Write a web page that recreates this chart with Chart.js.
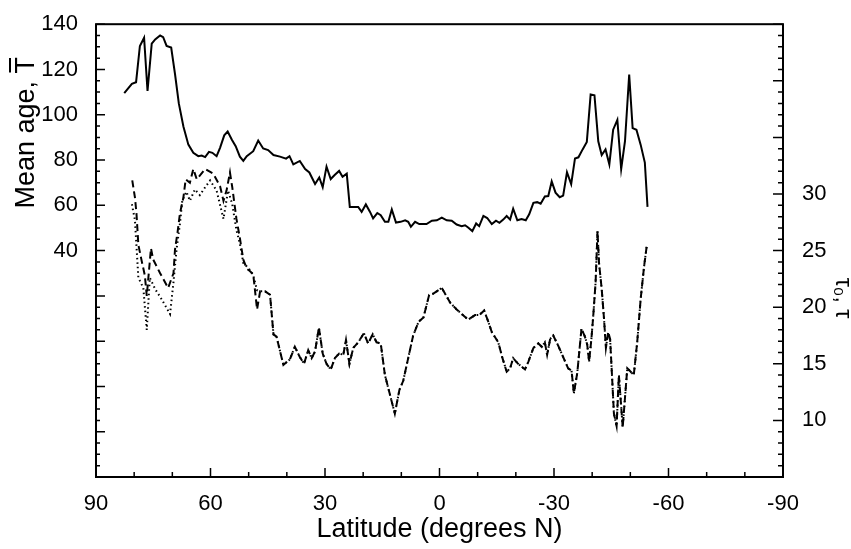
<!DOCTYPE html>
<html>
<head>
<meta charset="utf-8">
<script src="https://cdn.jsdelivr.net/npm/chart.js@4/dist/chart.umd.min.js"></script>
<style>
  html, body { margin: 0; padding: 0; background: #fff; }
  #wrap { width: 851px; height: 549px; }
</style>
</head>
<body>
<div id="wrap"><canvas id="ageChart" width="851" height="549"></canvas></div>
<script>
// Mean age (left axis), solid line
const ageLat = [82.6, 80.6, 79.5, 78.5, 77.4, 76.5, 75.4, 74.5, 73.2, 72.4, 71.5, 70.3, 69.3, 68.3, 67.1, 65.8, 64.5, 63.2, 62.3, 61.4,
  60.4, 59.5, 58.4, 57.5, 56.4, 55.5, 54.4, 53.4, 52.3, 51.4, 50.5, 48.8, 47.5, 46.2, 44.9, 43.5, 41.8, 40.2, 39.3, 38.3,
  36.6, 35.2, 34.1, 32.6, 31.5, 30.6, 29.6, 28.5, 27.4, 26.3, 25.4, 24.3, 23.5, 21.3, 20.4, 19.3, 18.2, 17.4, 16.3, 15.4,
  14.3, 13.4, 12.5, 11.4, 10.2, 9.0, 8.2, 7.5, 6.4, 5.3, 4.2, 3.4, 2.0, 0.7, -0.6, -1.9, -3.2, -4.5, -5.8, -6.7,
  -7.5, -8.6, -9.6, -10.4, -11.5, -12.5, -13.7, -14.8, -15.7, -16.7, -17.6, -18.5, -19.3, -20.4, -21.5, -22.6, -23.5, -24.6, -25.6, -26.5,
  -27.6, -28.5, -29.4, -30.4, -31.5, -32.4, -33.4, -34.5, -35.5, -36.4, -37.5, -38.6, -39.6, -40.6, -41.6, -42.5, -43.5, -44.5, -45.5, -46.6,
  -47.6, -48.6, -49.7, -50.6, -51.6, -52.7, -53.8, -54.5];
const ageVal = [109.6, 113.7, 114.4, 130.4, 134.0, 110.5, 131.4, 133.3, 135.0, 134.3, 130.4, 129.7, 118.0, 105.0, 94.8, 86.8, 83.2, 81.7, 82.0, 81.3,
  83.6, 83.2, 81.7, 85.4, 90.9, 92.6, 89.0, 86.1, 81.5, 79.6, 81.7, 83.9, 88.6, 85.1, 84.4, 82.2, 81.5, 80.6, 81.7, 78.1,
  79.6, 76.0, 74.5, 69.4, 72.3, 68.0, 77.1, 71.6, 73.5, 75.2, 72.6, 74.0, 59.3, 59.3, 57.1, 60.4, 57.1, 54.2, 56.6, 55.6,
  52.7, 52.7, 58.2, 52.4, 52.7, 53.4, 52.7, 50.5, 52.7, 51.7, 51.7, 51.7, 53.2, 53.4, 54.6, 53.4, 53.2, 51.5, 50.8, 51.2,
  50.2, 48.6, 52.0, 50.8, 55.3, 54.4, 51.7, 53.2, 52.3, 53.7, 55.3, 53.7, 58.5, 53.4, 53.9, 53.4, 56.0, 61.1, 61.4, 60.7,
  63.9, 64.1, 70.6, 65.6, 63.6, 64.3, 74.6, 69.4, 80.7, 81.2, 84.7, 88.0, 109.0, 108.6, 88.3, 82.2, 84.7, 78.1, 93.4, 97.7,
  76.0, 88.3, 117.8, 94.1, 93.4, 86.8, 78.9, 59.3];

// tau0 (right axis, dashed) north of 47N
const tau0NorthLat = [80.5, 79.8, 79.4, 78.9, 78.1, 77.2, 76.7, 75.6, 75.0, 73.2, 71.1, 69.7, 69.3, 68.6, 68.0, 67.1, 66.5, 65.4, 64.5, 63.6,
  61.4, 59.3, 57.5, 56.6, 55.8, 54.9, 54.3, 53.2, 52.3, 51.4, 50.5, 49.7, 48.8, 47.8];
const tau0NorthVal = [31.2, 29.7, 28.3, 25.5, 24.2, 22.8, 21.0, 25.2, 24.2, 23.0, 21.7, 23.0, 25.1, 26.7, 28.3, 29.7, 31.3, 31.0, 32.2, 31.3,
  32.2, 31.8, 30.7, 29.4, 30.3, 31.9, 30.6, 27.8, 26.1, 24.2, 23.4, 23.2, 22.9, 19.8];

// tau (right axis, dotted) north of 47N
const tauNorthLat = [80.6, 79.8, 78.9, 77.6, 76.7, 75.9, 74.5, 72.8, 70.6, 69.7, 68.9, 68.0, 67.4, 66.3, 65.4, 64.1, 62.8, 61.4, 60.1, 58.4,
  56.6, 55.4, 54.3, 53.2, 52.3, 51.4, 50.5, 49.7, 48.8, 47.8];
const tauNorthVal = [29.1, 27.7, 22.6, 21.7, 18.0, 22.6, 21.6, 20.7, 19.4, 22.2, 25.1, 27.4, 29.4, 30.2, 29.4, 30.4, 29.9, 30.6, 31.2, 30.3,
  27.8, 30.3, 29.1, 26.8, 25.6, 23.9, 23.6, 23.3, 22.8, 21.5];

// south of 47N both tau curves lie on top of each other
const tauSouthLat = [47.0, 45.7, 44.4, 43.5, 42.7, 40.9, 39.2, 37.9, 36.6, 35.5, 34.4, 33.5, 32.6, 31.6, 30.6, 29.6, 28.5, 27.4, 26.3, 25.2,
  24.5, 23.6, 22.6, 21.3, 19.8, 18.7, 17.5, 16.5, 15.4, 14.3, 13.0, 11.7, 10.5, 9.5, 8.2, 6.9, 5.5, 4.2, 2.7, 1.6,
  -0.6, -2.8, -4.5, -5.8, -7.5, -9.3, -10.4, -11.7, -12.8, -13.7, -15.4, -16.5, -17.6, -18.5, -19.3, -20.6, -22.4, -23.3, -24.6, -25.9,
  -26.8, -27.6, -28.2, -29.0, -29.8, -31.1, -32.4, -33.7, -34.6, -35.2, -36.1, -37.2, -38.1, -38.7, -39.2, -39.8, -40.3, -40.9, -41.4, -41.8,
  -42.5, -43.1, -43.6, -44.2, -44.7, -45.1, -45.7, -46.4, -47.0, -47.5, -48.0, -48.6, -49.2, -50.1, -50.9, -51.8, -52.7, -53.6, -54.3];
const tauSouthVal = [21.4, 21.4, 21.1, 17.6, 17.4, 14.9, 15.4, 16.5, 15.6, 15.0, 16.2, 15.5, 16.1, 18.2, 15.9, 15.0, 14.5, 15.5, 15.9, 15.8,
  17.1, 15.0, 16.4, 16.9, 17.7, 16.8, 17.6, 16.9, 16.8, 14.0, 12.3, 10.6, 12.7, 13.5, 15.5, 17.5, 18.7, 19.1, 21.1, 21.2,
  21.7, 20.4, 19.8, 19.4, 18.9, 19.3, 19.3, 19.7, 18.7, 17.8, 16.9, 15.5, 14.3, 14.6, 15.5, 15.0, 14.5, 15.2, 16.4, 16.8,
  16.5, 16.9, 15.8, 17.2, 17.5, 16.6, 15.6, 14.6, 14.4, 12.4, 14.2, 18.1, 17.4, 16.7, 15.2, 17.2, 19.3, 22.2, 26.7, 23.9,
  21.6, 19.0, 16.4, 17.8, 17.2, 14.6, 10.6, 9.5, 14.0, 11.7, 9.4, 12.0, 14.6, 14.3, 14.0, 16.9, 20.7, 23.6, 25.4];

// axis ticks
const latTicks = [90, 60, 30, 0, -30, -60, -90];
const ageTickLabels = [40, 60, 80, 100, 120, 140];
const tauTickLabels = [10, 15, 20, 25, 30];

const pts = (xs, ys) => xs.map((x, i) => ({ x, y: ys[i] }));
const tau0Data = pts(tau0NorthLat, tau0NorthVal).concat(pts(tauSouthLat, tauSouthVal));
const tauData = pts(tauNorthLat, tauNorthVal).concat(pts(tauSouthLat, tauSouthVal));

const FONT = '"Liberation Sans", Arial, Helvetica, sans-serif';

// frame, inward ticks and the two vertical titles
const frameTicks = {
  id: "frameTicks",
  afterDatasetsDraw(chart) {
    const { ctx, chartArea: a, scales } = chart;
    ctx.save();
    ctx.strokeStyle = "#000";
    ctx.lineWidth = 2;
    ctx.strokeRect(a.left, a.top, a.right - a.left, a.bottom - a.top);

    ctx.lineWidth = 1.5;
    ctx.beginPath();
    for (let v = -90; v <= 90; v += 10) {
      const px = scales.x.getPixelForValue(v);
      const len = v % 30 === 0 ? 9 : 5;
      ctx.moveTo(px, a.bottom); ctx.lineTo(px, a.bottom - len);
    }
    for (let v = -60; v <= 140; v += 5) {
      const py = scales.y.getPixelForValue(v);
      const len = v % 20 === 0 ? 9 : 4;
      ctx.moveTo(a.left, py); ctx.lineTo(a.left + len, py);
    }
    for (let v = 5; v <= 45; v += 1) {
      const py = scales.y2.getPixelForValue(v);
      const len = v % 5 === 0 ? 10 : 5;
      ctx.moveTo(a.right, py); ctx.lineTo(a.right - len, py);
    }
    ctx.stroke();

    // left title: Mean age, T with overbar
    ctx.fillStyle = "#000";
    ctx.font = `27px ${FONT}`;
    ctx.save();
    ctx.translate(34, 57);
    ctx.rotate(-Math.PI / 2);
    ctx.textAlign = "right";
    ctx.textBaseline = "alphabetic";
    ctx.fillText("Mean age, T", 0, 0);
    const wT = ctx.measureText("T").width;
    ctx.lineWidth = 2;
    ctx.beginPath();
    ctx.moveTo(-wT + 1, -24);
    ctx.lineTo(-1, -24);
    ctx.stroke();
    ctx.restore();

    // right title
    ctx.save();
    ctx.font = `23px ${FONT}`;
    ctx.translate(836, 298);
    ctx.rotate(Math.PI / 2);
    ctx.textAlign = "center";
    ctx.textBaseline = "alphabetic";
    ctx.fillText("τ₀, τ", 0, 0);
    ctx.restore();

    ctx.restore();
  }
};

new Chart(document.getElementById("ageChart").getContext("2d"), {
  type: "scatter",
  data: {
    datasets: [
      {
        label: "Mean age",
        data: pts(ageLat, ageVal),
        yAxisID: "y",
        showLine: true,
        borderColor: "#000",
        borderWidth: 2,
        pointRadius: 0,
        tension: 0
      },
      {
        label: "tau0",
        data: tau0Data,
        yAxisID: "y2",
        showLine: true,
        borderColor: "#000",
        borderWidth: 2,
        borderDash: [7, 4],
        pointRadius: 0,
        tension: 0
      },
      {
        label: "tau",
        data: tauData,
        yAxisID: "y2",
        showLine: true,
        borderColor: "#000",
        borderWidth: 2,
        borderDash: [1.5, 3],
        pointRadius: 0,
        tension: 0
      }
    ]
  },
  options: {
    responsive: false,
    animation: false,
    devicePixelRatio: 1,
    layout: { padding: { top: 18, left: 0, right: 0, bottom: 0 } },
    plugins: { legend: { display: false }, tooltip: { enabled: false } },
    scales: {
      x: {
        type: "linear",
        reverse: true,
        min: -90, max: 90,
        grid: { display: false },
        border: { display: false },
        afterFit: s => { s.height = 72; },
        afterBuildTicks: s => { s.ticks = latTicks.map(v => ({ value: v })); },
        ticks: { color: "#000", font: { size: 22, family: FONT }, padding: 6, maxRotation: 0 },
        title: {
          display: true,
          text: "Latitude (degrees N)",
          color: "#000",
          font: { size: 27, family: FONT },
          padding: { top: 0, bottom: 3 }
        }
      },
      y: {
        type: "linear",
        position: "left",
        min: -60, max: 140,
        grid: { display: false },
        border: { display: false },
        afterFit: s => { s.width = 96; },
        afterBuildTicks: s => { s.ticks = ageTickLabels.map(v => ({ value: v })); },
        ticks: { color: "#000", font: { size: 22, family: FONT }, padding: 10 }
      },
      y2: {
        type: "linear",
        position: "right",
        min: 5, max: 45,
        grid: { display: false },
        border: { display: false },
        afterFit: s => { s.width = 68; },
        afterBuildTicks: s => { s.ticks = tauTickLabels.map(v => ({ value: v })); },
        ticks: { color: "#000", font: { size: 22, family: FONT }, padding: 11 }
      }
    }
  },
  plugins: [frameTicks]
});
</script>
</body>
</html>
